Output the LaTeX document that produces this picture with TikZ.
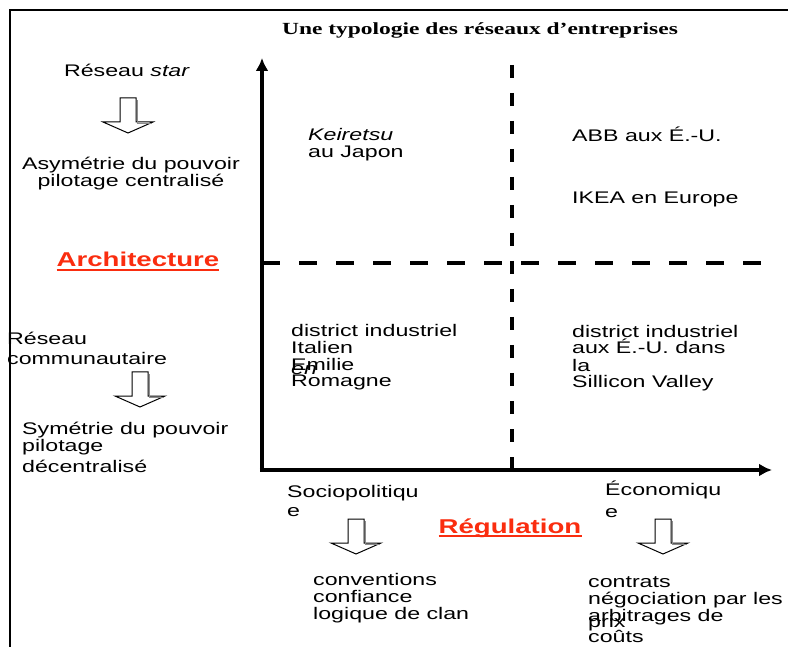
\documentclass[tikz,border=0pt]{standalone}
\usepackage{fontspec}
\setmainfont[FakeStretch=1.38]{Liberation Sans}
\newfontfamily\titlefont[FakeStretch=1.38]{Liberation Serif}
\usetikzlibrary{arrows.meta}
\definecolor{headred}{RGB}{250,45,15}

\begin{document}
\begin{tikzpicture}[x=1pt, y=-1pt]
    \tikzset{lbl/.style = {anchor=base west, align=left, inner sep=0pt, font=\fontsize{16.8}{17}\selectfont}}
    \tikzset{axis/.style = {-{Latex[length=13pt,width=13pt]}, line width=4.5pt}}
    \tikzset{split/.style = {line width=4pt}}
    \tikzset{heading/.style = {anchor=base, inner sep=0pt, text=headred, font=\fontsize{20}{20}\selectfont\bfseries}}
    \tikzset{underline/.style = {headred, line width=1.3pt}}
    \tikzset{hollow arrow/.pic = {
        \draw[fill=white, line width=1pt, line join=miter]
          (-8,0) -- (8,0) -- (8,24) -- (25,24) -- (0,35) -- (-25,24) -- (-8,24) -- cycle;
        \draw[black!45, line width=1.5pt] (9.5,2) -- (9.5,25.5) -- (24,25.5);
    }}

    \useasboundingbox (0,0) rectangle (788,647);

    % title
    \node[anchor=base, inner sep=0pt, font=\titlefont\bfseries\fontsize{17}{17}\selectfont] (title) at (480,35)
      {Une typologie des réseaux d’entreprises};

    % left column: architecture (multi-line nodes sit on their last line)
    \node[lbl, anchor=base] (star) at (127,77) {Réseau \textit{star}};
    \pic at (128,98) {hollow arrow};
    \node[lbl, anchor=base, align=center] (asym) at (131,187)
      {Asymétrie du pouvoir\\pilotage centralisé};
    \node[heading] (archi) at (138,267) {Architecture};
    \draw[underline] ([yshift=-3pt]archi.base west) -- ([yshift=-3pt]archi.base east);
    \node[lbl] (comm) at (7,364) {Réseau\\[3pt]communautaire};
    \pic at (140,372) {hollow arrow};
    \node[lbl] (sym) at (22,472) {Symétrie du pouvoir\\pilotage\\[4pt]décentralisé};

    % axes and quadrants
    \coordinate (origin) at (262,470);
    \coordinate (ymax) at (262,58);
    \coordinate (xmax) at (772,470);
    \coordinate (vtop) at (512,65);
    \coordinate (vbot) at (512,470);
    \coordinate (hleft) at (262,263);
    \coordinate (hright) at (770,263);
    \draw[split, dash pattern=on 13pt off 15pt] (vtop) -- (vbot);
    \draw[split, dash pattern=on 18pt off 19pt] (hleft) -- (hright);
    \draw[axis] (origin) -- (ymax);
    \draw[axis] ([xshift=-2.25pt]origin) -- (xmax);

    % quadrant contents
    \node[lbl] (keiretsu) at (308,158) {\textit{Keiretsu}\\au Japon};
    \node[lbl] (abb) at (572,142) {ABB aux É.-U.};
    \node[lbl] (ikea) at (572,204) {IKEA en Europe};
    \node[lbl] (italy) at (291,387) {district industriel\\Italien\\Emilie\\Romagne};
    \node[lbl] (en) at (291,374) {\textit{en}};
    \node[lbl] (valley) at (572,388) {district industriel\\aux É.-U. dans\\la\\Sillicon Valley};

    % regulation
    \node[lbl] (socio) at (287,516) {Sociopolitiqu\\[2pt]e};
    \node[lbl] (eco) at (605,517) {Économiqu\\[5pt]e};
    \node[heading] (regul) at (510,533) {Régulation};
    \draw[underline] ([yshift=-3pt]regul.base west) -- ([yshift=-3pt]regul.base east);
    \pic at (356,519) {hollow arrow};
    \pic at (663,519) {hollow arrow};
    \node[lbl] (clan) at (313,619) {conventions\\confiance\\logique de clan};
    \node[lbl] (prices) at (588,642) {contrats\\négociation par les\\arbitrages de\\[4pt]coûts};
    \node[lbl] (prix) at (588,627) {prix};

    % frame
    \draw[line width=2pt] (10,647) -- (10,10) -- (788,10);
\end{tikzpicture}
\end{document}
